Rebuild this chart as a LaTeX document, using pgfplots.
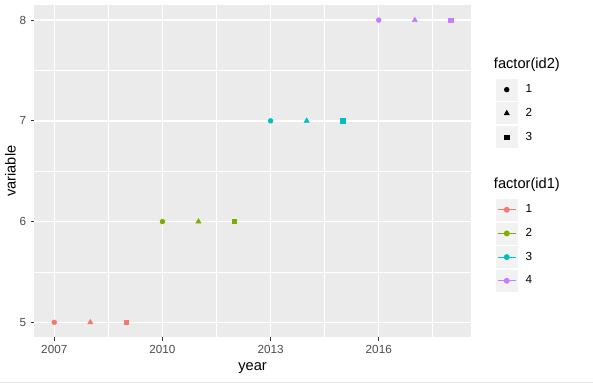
\documentclass[border=0pt]{standalone}
\usepackage{pgfplots}
\pgfplotsset{compat=1.18}
\usepackage{fontspec}
\setmainfont{Liberation Sans}
\definecolor{c1}{HTML}{F8766D}
\definecolor{c2}{HTML}{7CAE00}
\definecolor{c3}{HTML}{00BFC4}
\definecolor{c4}{HTML}{C77CFF}
\definecolor{panel}{HTML}{EBEBEB}
\definecolor{keybg}{HTML}{F2F2F2}
\definecolor{tickcol}{HTML}{333333}
\definecolor{labcol}{HTML}{4D4D4D}
\pgfplotsset{
  shapekey/.style={legend image code/.code={
     \draw[fill=keybg, draw=white, line width=0.5pt] (0pt,-8.64pt) rectangle (17.28pt,8.64pt);
     \draw[##1, only marks] plot coordinates {(8.64pt,0pt)};}},
  linekey/.style={legend image code/.code={
     \draw[fill=keybg, draw=white, line width=0.5pt] (0pt,-8.64pt) rectangle (17.28pt,8.64pt);
     \draw[mark repeat=2, mark phase=2, ##1] plot coordinates {(1.73pt,0pt) (8.64pt,0pt) (15.55pt,0pt)};}},
  mylegend/.style={legend style={anchor=north west, draw=none, fill=none, inner sep=0pt, row sep=0pt,
     nodes={inner sep=0pt, font=\fontsize{8.8}{10}\selectfont},
     /tikz/every odd column/.append style={column sep=5.25pt}},
     legend cell align=left},
  base/.style={at={(25.5pt,-3.75pt)}, anchor=north west,
     scale only axis, width=327.75pt, height=249.75pt,
     xmin=2006.45, xmax=2018.55, ymin=4.85, ymax=8.15},
}
\begin{document}
\begin{tikzpicture}
\fill[white] (0,0) rectangle (444.75pt,-288.75pt);
\draw[gray!20, line width=0.75pt] (0,-287.6pt) -- (444.75pt,-287.6pt);
\begin{axis}[base,
  xtick={2007,2010,2013,2016}, ytick={5,6,7,8},
  minor xtick={2008.5,2011.5,2014.5,2017.5}, minor ytick={5.5,6.5,7.5},
  xticklabels={2007,2010,2013,2016}, yticklabels={5,6,7,8},
  grid=both,
  major grid style={white, line width=1.07pt},
  minor grid style={white, line width=0.53pt},
  axis background/.style={fill=panel},
  axis line style={draw=none},
  tick align=outside, tick pos=left,
  major tick length=2.75pt, minor tick length=0pt,
  every tick/.style={tickcol, line width=0.8pt},
  tick label style={font=\fontsize{8.8}{10}\selectfont, text=labcol},
  xlabel={year}, ylabel={variable},
  label style={font=\fontsize{11}{13}\selectfont},
  xlabel style={at={(rel axis cs:0.5,-0.0931)}, anchor=center},
  ylabel style={at={(rel axis cs:-0.0549,0.5)}, anchor=center},
  mylegend,
  legend style={at={(rel axis cs:1.0549,0.7817)}},
]
\addlegendimage{shapekey, black, mark=*, mark size=1.8pt}
\addlegendentry{1}
\addlegendimage{shapekey, black, mark=triangle*, mark size=2.2pt}
\addlegendentry{2}
\addlegendimage{shapekey, black, mark=square*, mark size=1.6pt}
\addlegendentry{3}
% id1 = 1
\addplot[only marks, mark=*, mark size=1.8pt, c1, forget plot] coordinates {(2007,5)};
\addplot[only marks, mark=triangle*, mark size=2.2pt, c1, forget plot] coordinates {(2008,5)};
\addplot[only marks, mark=square*, mark size=1.6pt, c1, forget plot] coordinates {(2009,5)};
% id1 = 2
\addplot[only marks, mark=*, mark size=1.8pt, c2, forget plot] coordinates {(2010,6)};
\addplot[only marks, mark=triangle*, mark size=2.2pt, c2, forget plot] coordinates {(2011,6)};
\addplot[only marks, mark=square*, mark size=1.6pt, c2, forget plot] coordinates {(2012,6)};
% id1 = 3
\addplot[only marks, mark=*, mark size=1.8pt, c3, forget plot] coordinates {(2013,7)};
\addplot[only marks, mark=triangle*, mark size=2.2pt, c3, forget plot] coordinates {(2014,7)};
\addplot[only marks, mark=square*, mark size=1.6pt, c3, forget plot] coordinates {(2015,7)};
% id1 = 4
\addplot[only marks, mark=*, mark size=1.8pt, c4, forget plot] coordinates {(2016,8)};
\addplot[only marks, mark=triangle*, mark size=2.2pt, c4, forget plot] coordinates {(2017,8)};
\addplot[only marks, mark=square*, mark size=1.6pt, c4, forget plot] coordinates {(2018,8)};
\end{axis}
\begin{axis}[base, hide axis, mylegend,
  legend style={at={(rel axis cs:1.0549,0.4204)}}]
\addlegendimage{linekey, c1, mark=*, mark size=1.8pt, line width=0.8pt}
\addlegendentry{1}
\addlegendimage{linekey, c2, mark=*, mark size=1.8pt, line width=0.8pt}
\addlegendentry{2}
\addlegendimage{linekey, c3, mark=*, mark size=1.8pt, line width=0.8pt}
\addlegendentry{3}
\addlegendimage{linekey, c4, mark=*, mark size=1.8pt, line width=0.8pt}
\addlegendentry{4}
\end{axis}
\node[anchor=west, font=\fontsize{11}{13}\selectfont, inner sep=0pt] at (370.5pt,-48.75pt) {factor(id2)};
\node[anchor=west, font=\fontsize{11}{13}\selectfont, inner sep=0pt] at (370.5pt,-138.75pt) {factor(id1)};
\end{tikzpicture}
\end{document}
